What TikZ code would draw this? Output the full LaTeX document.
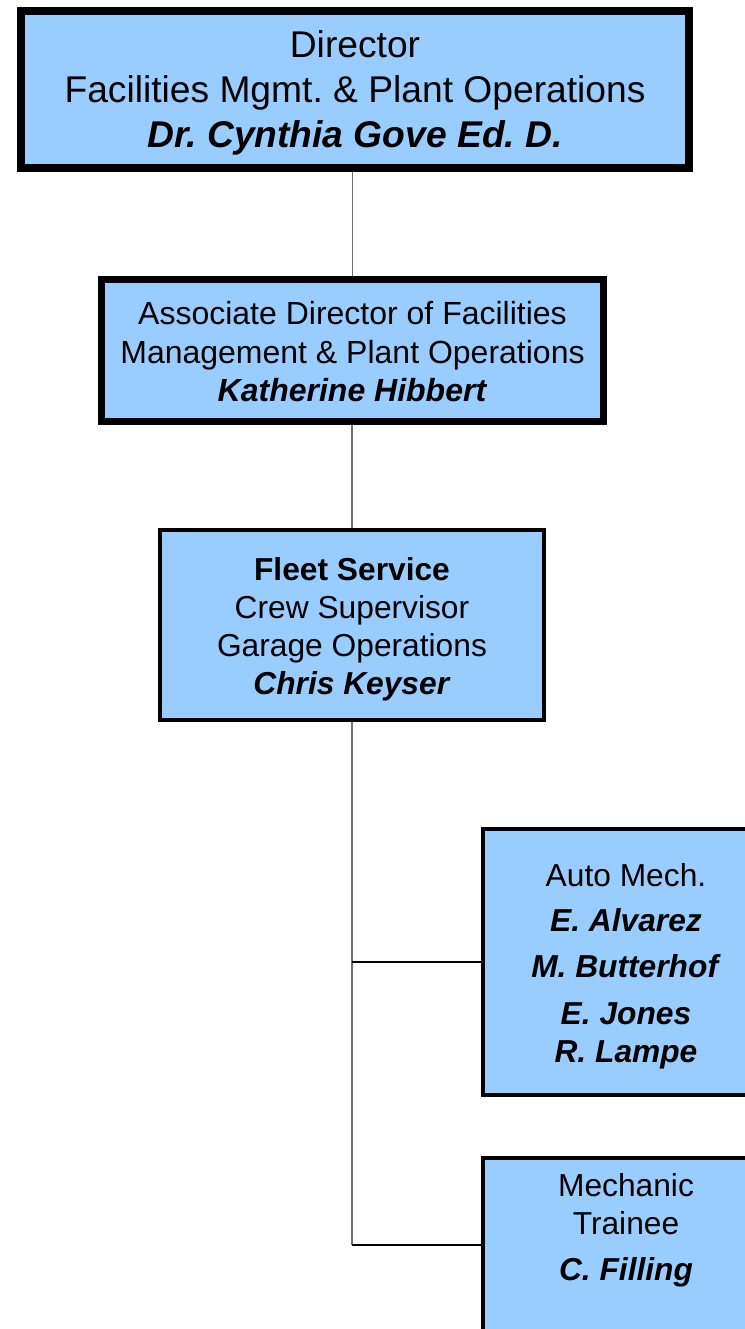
\documentclass[tikz,border=0pt]{standalone}
\usepackage{fontspec}
\setmainfont{Liberation Sans}
\usepackage{xcolor}
\usepackage{tikz}
\usetikzlibrary{positioning}
\definecolor{boxblue}{HTML}{99CCFF}
\definecolor{linegrey}{HTML}{707070}
\newcommand{\toppad}[1]{\rule{0pt}{#1}}
\frenchspacing

\begin{document}
\begin{tikzpicture}[x=0.75pt, y=-0.75pt,
  box/.style={rectangle, draw=black, fill=boxblue, align=center, inner sep=0pt},
  topbox/.style={box, line width=6pt, font=\fontsize{27.9}{33.75}\selectfont},
  midbox/.style={box, line width=5.25pt, font=\fontsize{24}{28.9}\selectfont},
  crewbox/.style={box, line width=3pt, font=\fontsize{23.8}{28.7}\selectfont},
  vln/.style={linegrey, line width=1.1pt},
  hln/.style={black, line width=0.8pt}]
\useasboundingbox (0,0) rectangle (745,1329);
\node[topbox, minimum width=501pt, minimum height=117.75pt] (dir) at (355,89.5)
  {\toppad{26pt}Director\\Facilities Mgmt. \& Plant Operations\\\textbf{\textit{Dr. Cynthia Gove Ed. D.}}};
\node[midbox, minimum width=376.5pt, minimum height=106.5pt] (assoc) at (352.5,350.5)
  {\toppad{19.4pt}Associate Director of Facilities\\Management \& Plant Operations\\\textbf{\textit{Katherine Hibbert}}};
\node[crewbox, minimum width=288pt, minimum height=142.5pt] (fleet) at (352,625)
  {\toppad{23.8pt}\textbf{Fleet Service}\\Crew Supervisor\\Garage Operations\\\textbf{\textit{Chris Keyser}}};
\node[crewbox, minimum width=214.5pt, minimum height=199.5pt] (mech) at (626,962)
  {\toppad{23.8pt}Auto Mech.\\[5pt]\textbf{\textit{E. Alvarez}}\\[6pt]\textbf{\textit{M. Butterhof}}\\[6pt]\textbf{\textit{E. Jones}}\\\textbf{\textit{R. Lampe}}};
\node[crewbox, minimum width=214.5pt, anchor=north, inner ysep=11.5pt, text depth=110pt] (trainee) at (626,1156)
  {Mechanic\\Trainee\\[6pt]\textbf{\textit{C. Filling}}};
\coordinate (tr) at (483,1245);
% connectors
\draw[vln] (dir.south -| assoc.north) -- (assoc.north);
\draw[vln] (assoc.south -| fleet.north) -- (fleet.north);
\draw[vln] (fleet.south) -- (fleet.south |- tr);
\draw[hln] (fleet.south |- mech.west) -- (mech.west);
\draw[hln] (fleet.south |- tr) -- (tr);
\end{tikzpicture}
\end{document}
